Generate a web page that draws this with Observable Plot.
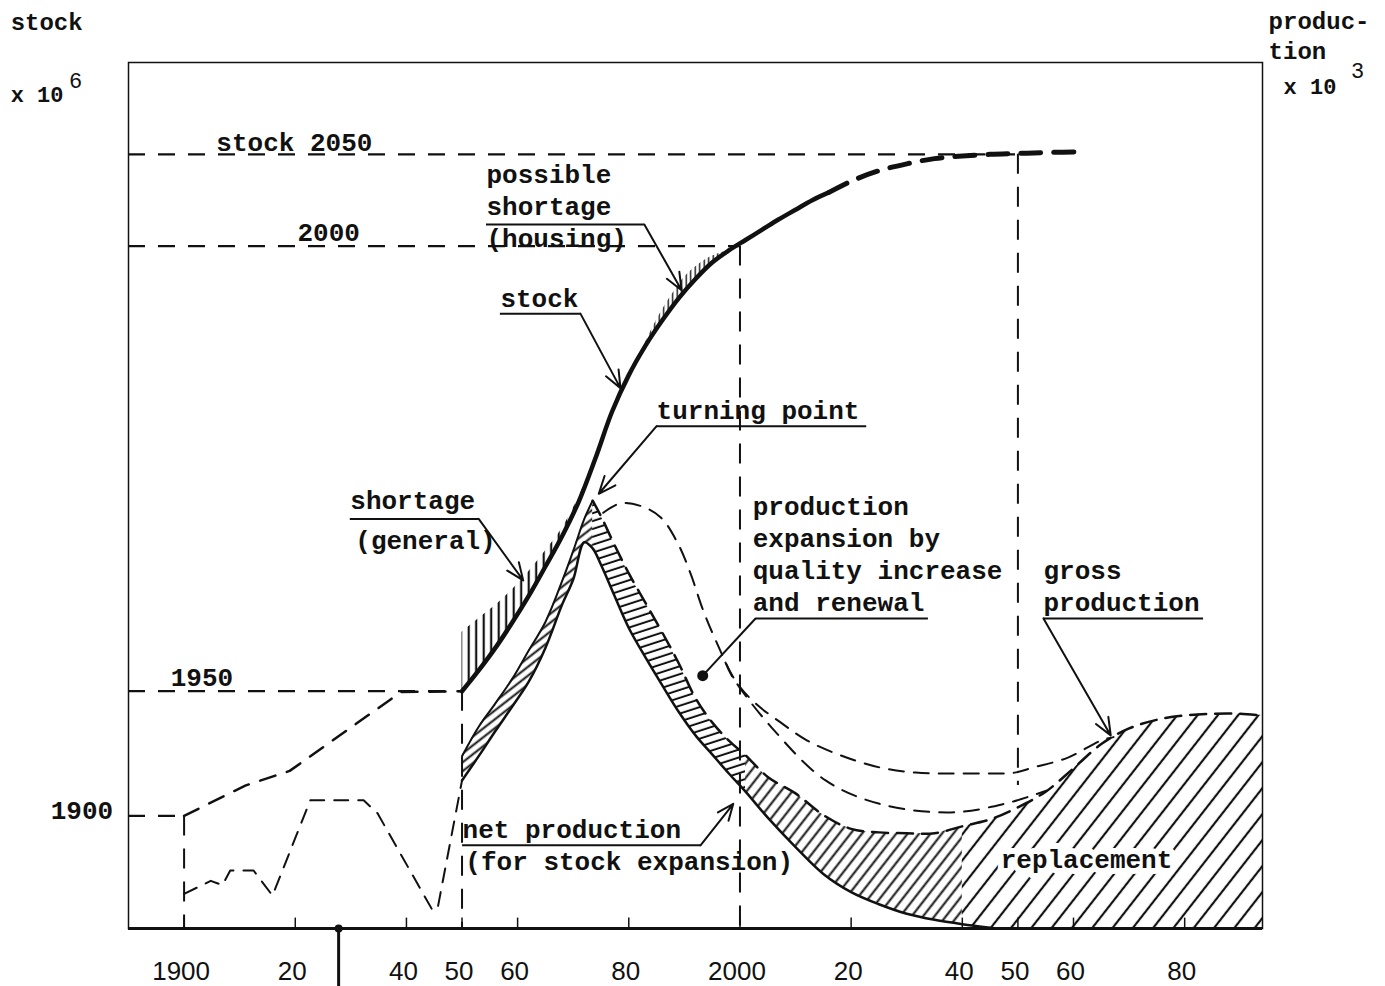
<!DOCTYPE html>
<html><head><meta charset="utf-8">
<script src="https://cdn.jsdelivr.net/npm/d3@7"></script>
<script src="https://cdn.jsdelivr.net/npm/@observablehq/plot@0.6"></script>
<style>body{margin:0;background:#fff}</style>
</head><body><div id="chart"></div>
<script>
// ---------- x axis ----------
const tickYears  = [1900,1920,1940,1950,1960,1980,2000,2020,2040,2050,2060,2080];
const tickLabels = ["1900","20","40","50","60","80","2000","20","40","50","60","80"];

// ---------- stock (index, left scale) ----------
const stockPreYears  = [1900, 1911, 1919, 1939, 1950];
const stockPreValues = [13.0, 16.5, 18.2, 27.3, 27.4];

const stockYears  = [1950,1953,1956,1959,1962,1965,1968,1971,1974,1977,1980,1983,1986,1989,1992,1995,1998,2001,2004,2007,2010,2013,2016];
const stockValues = [27.4,29.8,32.4,35.3,38.4,41.8,45.3,49.3,54.3,59.7,63.9,67.3,70.2,72.8,75.0,76.9,78.3,79.5,80.7,81.9,83.0,84.1,85.0];

const stockFutureYears  = [2016,2020,2025,2030,2035,2040,2045,2050,2055,2062];
const stockFutureValues = [85.0,86.3,87.5,88.3,88.9,89.2,89.4,89.5,89.6,89.7];

// reference stock levels
const refYears  = [1900, 1950, 2000, 2050];
const refValues = [13.0, 27.4, 78.8, 89.4];
const refDrop   = [0, 0, 0, 16.5];

// shortage (general): stock vs. need
const shortageYears = [1950,1953,1956,1959,1962,1965,1968,1971,1973];
const shortageStock = [27.4,29.8,32.4,35.3,38.4,41.8,45.3,49.3,52.6];
const shortageNeed  = [34.2,35.8,37.3,39.1,41.2,43.6,46.2,49.8,52.6];

// possible shortage (housing)
const housingYears = [1982,1984,1986,1988,1990,1992,1994,1996,1998];
const housingStock = [66.2,68.3,70.2,71.9,73.6,75.0,76.3,77.4,78.3];
const housingNeed  = [66.2,69.0,71.4,73.4,75.2,76.4,77.3,77.9,78.3];

// ---------- production (right scale) ----------
const prodPreYears  = [1900,1904.8,1906.9,1908.3,1912.5,1915.9,1922.7,1932.3,1934.8,1944.7,1945.6,1950];
const prodPreValues = [4.0, 5.5, 5.0, 6.7, 6.7, 3.8, 14.8, 14.8, 13.3, 2.1, 2.3, 17.1];

const bandYears   = [1950,1953,1956,1959,1962,1965,1968,1970,1972,1973.5,1975,1977.5,1980,1983,1986,1989,1992,1995,1998,2001,2005,2010,2015,2020,2025,2030,2035,2040,2045,2050,2055,2060,2065,2070,2075,2080,2085,2090,2094];
const netValues   = [17.1,19.9,22.8,25.6,28.5,32.4,37.4,40.3,44.6,43.9,42.0,38.3,34.7,31.3,28.1,25.0,22.3,20.1,17.9,15.8,12.8,9.4,6.3,4.2,2.8,1.7,1.0,0.5,0.1,0,0,0,0,0,0,0,0,0,0];
const grossValues = [19.9,23.3,26.0,28.8,32.1,35.4,40.1,43.6,47.3,49.4,47.6,44.2,41.0,37.6,34.2,30.6,26.6,23.8,21.7,20.0,17.5,15.6,13.1,11.5,11.1,11.0,11.0,11.8,12.6,14.0,15.8,18.5,21.3,23.1,24.1,24.6,24.8,24.8,24.6];

// production expansion by quality increase and renewal (two dashed variants)
const qualityYears  = [1975.4,1978.5,1982.1,1985.7,1988.8,1991.1,1993.4,1995.9,1999.2,2002.6,2007.3,2012.1,2018.1,2025.1,2031.6,2037.9,2045.1,2049.4,2052.8,2058.9,2064.9,2067.2];
const qualityValues = [48.0,49.1,48.8,47.5,44.5,41.0,36.7,32.9,28.6,26.1,23.8,21.7,20.0,18.6,18.0,17.9,17.9,18.0,18.6,19.7,21.7,22.1];
const renewalYears  = [1997.4,1998.7,2005.7,2015.4,2025.1,2037.9,2047.6,2055.1];
const renewalValues = [30.7,29.0,23.2,17.1,14.4,13.4,14.4,15.9];

// ---------- annotations ----------
const noteText  = ["possible","shortage","(housing)","stock","turning point","shortage","(general)","production","expansion by","quality increase","and renewal","gross","production","net production","(for stock expansion)","stock 2050","2000","1950","1900"];
const noteYear  = [1954.4,1954.4,1954.4,1956.9,1985.0,1929.9,1930.8,2002.3,2002.3,2002.3,2002.3,2054.6,2054.6,1950.1,1950.6,1905.8,1920.4,1897.6,1876.0];
const noteValue = [87.1,83.4,79.7,72.7,59.8,49.4,44.8,48.7,45.0,41.3,37.6,41.3,37.6,11.4,7.7,90.8,80.3,29.0,13.6];

const leaderY        = [81.3, 71.0, 58.0, 47.3, 35.8, 35.8, 9.6];
const leaderX1       = [1954.4,1956.9,1985.0,1929.9,2002.8,2054.6,1950.1];
const leaderX2       = [1982.8,1971.3,2022.8,1953.0,2033.9,2083.4,1992.9];
const leaderFromLeft = [false,false,true,false,true,true,false];
const leaderTipYear  = [1989.5,1978.5,1974.6,1961.0,1993.3,2066.7,1998.8];
const leaderTipValue = [73.7,62.4,50.2,40.2,29.2,22.3,14.4];
const leaderDot      = [false,false,false,false,true,false,false];

const axisTitleText  = ["stock","produc-","tion"];
const axisTitleYear  = [1868.8,2095.1,2095.1];
const axisTitleValue = [104.6,104.7,101.3];
const unitText  = ["x 10","x 10"];
const unitYear  = [1868.8,2097.8];
const unitValue = [96.3,97.2];
const expText   = ["6","3"];
const expYear   = [1879.4,2110.0];
const expValue  = [97.9,99.0];

const markerYear = 1927.8;

// ---------- tables ----------
const T = (xs, ys) => xs.map((year, i) => ({year, value: ys[i]}));
const stockPre = T(stockPreYears, stockPreValues);
const stock = T(stockYears, stockValues);
const stockFuture = T(stockFutureYears, stockFutureValues);
const prodPre = T(prodPreYears, prodPreValues);
const quality = T(qualityYears, qualityValues);
const renewal = T(renewalYears, renewalValues);
const band = bandYears.map((year, i) => ({year, net: netValues[i], gross: grossValues[i]}));
const shortage = shortageYears.map((year, i) => ({year, lo: shortageStock[i], hi: shortageNeed[i]}));
const housing = housingYears.map((year, i) => ({year, lo: housingStock[i], hi: housingNeed[i]}));
const refs = refYears.map((year, i) => ({year, value: refValues[i], drop: refDrop[i]}));
const notes = noteText.map((text, i) => ({text, year: noteYear[i], value: noteValue[i]}));
const leaders = leaderY.map((y, i) => ({
  y, x1: leaderX1[i], x2: leaderX2[i],
  sx: leaderFromLeft[i] ? leaderX1[i] : leaderX2[i],
  tx: leaderTipYear[i], ty: leaderTipValue[i], dot: leaderDot[i]
}));
const titles = axisTitleText.map((text, i) => ({text, year: axisTitleYear[i], value: axisTitleValue[i]}));
const units = unitText.map((text, i) => ({text, year: unitYear[i], value: unitValue[i]}));
const exps = expText.map((text, i) => ({text, year: expYear[i], value: expValue[i]}));

const INK = "#111";
const mono = {fontFamily: "Liberation Mono", fontWeight: "bold", fontSize: 26, fill: INK, textAnchor: "start"};
const CR = "catmull-rom";

const svg = Plot.plot({
  width: 1385, height: 986,
  marginLeft: 128, marginRight: 123, marginTop: 62, marginBottom: 58,
  x: {domain: [1890, 2094]},
  y: {domain: [0, 100], axis: null},
  marks: [
    // hatched regions
    Plot.areaY(shortage, {x: "year", y1: "lo", y2: "hi", fill: "url(#hVert)", curve: CR}),
    Plot.areaY(housing, {x: "year", y1: "lo", y2: "hi", fill: "url(#hVertFine)", curve: CR}),
    Plot.areaY(band, {filter: d => d.year <= 1973.5, x: "year", y1: "net", y2: "gross", fill: "url(#hRise)", curve: CR}),
    Plot.areaY(band, {filter: d => d.year >= 1973.5 && d.year <= 2001, x: "year", y1: "net", y2: "gross", fill: "url(#hFlat)", curve: CR}),
    Plot.areaY(band, {filter: d => d.year >= 2001 && d.year <= 2040, x: "year", y1: "net", y2: "gross", fill: "url(#hBox)", curve: CR}),
    Plot.areaY(band, {filter: d => d.year >= 2040, x: "year", y1: "net", y2: "gross", fill: "url(#hWide)", curve: CR}),

    // reference levels
    Plot.ruleY(refs, {y: "value", x1: 1890, x2: "year", stroke: INK, strokeWidth: 2.2, strokeDasharray: "17,13"}),
    Plot.ruleX(refs, {x: "year", y1: "value", y2: "drop", stroke: INK, strokeWidth: 2, strokeDasharray: "20,13"}),

    // stock
    Plot.line(stockPre, {x: "year", y: "value", stroke: INK, strokeWidth: 2.5, strokeDasharray: "16,12"}),
    Plot.line(stock, {x: "year", y: "value", stroke: INK, strokeWidth: 4.5, curve: CR}),
    Plot.line(stockFuture, {x: "year", y: "value", stroke: INK, strokeWidth: 5, strokeDasharray: "20,13", curve: CR}),

    // production
    Plot.line(prodPre, {x: "year", y: "value", stroke: INK, strokeWidth: 2, strokeDasharray: "14,10"}),
    Plot.line(band, {filter: d => d.year <= 2045, x: "year", y: "net", stroke: INK, strokeWidth: 2.5, curve: CR}),
    Plot.line(band, {filter: d => d.year <= 1973.5, x: "year", y: "gross", stroke: INK, strokeWidth: 2, curve: CR}),
    Plot.line(band, {filter: d => d.year >= 1973.5, x: "year", y: "gross", stroke: INK, strokeWidth: 2.5, strokeDasharray: "16,9", curve: CR}),
    Plot.line(quality, {x: "year", y: "value", stroke: INK, strokeWidth: 2, strokeDasharray: "15,10", curve: CR}),
    Plot.line(renewal, {x: "year", y: "value", stroke: INK, strokeWidth: 2, strokeDasharray: "15,10", curve: CR}),

    // axis, frame, ticks
    Plot.frame({stroke: INK, strokeWidth: 1.5}),
    Plot.ruleY([0], {stroke: INK, strokeWidth: 3}),
    Plot.ruleX(tickYears, {y1: 0, y2: 1.2, stroke: INK, strokeWidth: 1.5}),
    Plot.axisX({ticks: tickYears, tickSize: 0, tickPadding: 33, dx: -3,
      tickFormat: d => tickLabels[tickYears.indexOf(d)],
      fontSize: 26, fontFamily: "Liberation Sans", fill: INK}),
    Plot.ruleX([markerYear], {y1: 0, y2: -6.8, stroke: INK, strokeWidth: 3}),
    Plot.dot([markerYear], {x: d => d, y: 0, r: 4, fill: INK}),

    // leaders
    Plot.ruleY(leaders, {y: "y", x1: "x1", x2: "x2", stroke: INK, strokeWidth: 2}),
    Plot.arrow(leaders.filter(d => !d.dot), {x1: "sx", y1: "y", x2: "tx", y2: "ty", stroke: INK, strokeWidth: 2, headLength: 14, headAngle: 45}),
    Plot.link(leaders.filter(d => d.dot), {x1: "sx", y1: "y", x2: "tx", y2: "ty", stroke: INK, strokeWidth: 2}),
    Plot.dot(leaders.filter(d => d.dot), {x: "tx", y: "ty", r: 5.5, fill: INK}),

    // text
    Plot.text(notes, {x: "year", y: "value", text: "text", ...mono}),
    Plot.text(["replacement"], {x: 2046.9, y: 7.9, text: d => d, ...mono, stroke: "white", strokeWidth: 12}),
    Plot.text(titles, {x: "year", y: "value", text: "text", ...mono, fontSize: 24}),
    Plot.text(units, {x: "year", y: "value", text: "text", ...mono, fontSize: 22}),
    Plot.text(exps, {x: "year", y: "value", text: "text", ...mono, fontWeight: "normal", fontSize: 22, fontFamily: "Liberation Sans"})
  ]
});

svg.insertAdjacentHTML("afterbegin", `<defs>
<pattern id="hVert" patternUnits="userSpaceOnUse" width="7.5" height="10"><line x1="3.7" y1="0" x2="3.7" y2="10" stroke="${INK}" stroke-width="2.2"/></pattern>
<pattern id="hVertFine" patternUnits="userSpaceOnUse" width="4.5" height="10"><line x1="2.2" y1="0" x2="2.2" y2="10" stroke="${INK}" stroke-width="1.4"/></pattern>
<pattern id="hRise" patternUnits="userSpaceOnUse" width="10" height="7" patternTransform="rotate(-38)"><line x1="0" y1="3.5" x2="10" y2="3.5" stroke="${INK}" stroke-width="2"/></pattern>
<pattern id="hFlat" patternUnits="userSpaceOnUse" width="10" height="7.5" patternTransform="rotate(-18)"><line x1="0" y1="3.7" x2="10" y2="3.7" stroke="${INK}" stroke-width="2"/></pattern>
<pattern id="hBox" patternUnits="userSpaceOnUse" width="10" height="9" patternTransform="rotate(-52)"><line x1="0" y1="4.5" x2="10" y2="4.5" stroke="${INK}" stroke-width="2"/></pattern>
<pattern id="hWide" patternUnits="userSpaceOnUse" width="10" height="16" patternTransform="rotate(-52)"><line x1="0" y1="8" x2="10" y2="8" stroke="${INK}" stroke-width="2.2"/></pattern>
</defs>`);
document.getElementById("chart").appendChild(svg);
</script>
</body></html>
